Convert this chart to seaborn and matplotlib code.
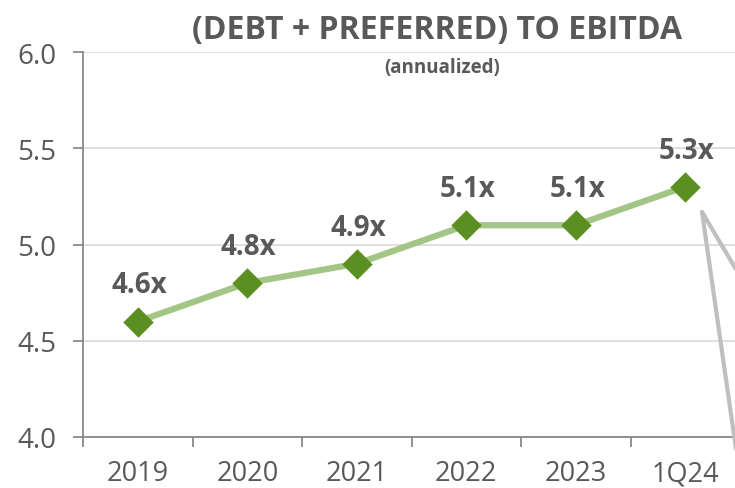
import matplotlib
matplotlib.use("Agg")
import matplotlib.pyplot as plt
import seaborn as sns
import pandas as pd
from matplotlib.lines import Line2D

# data
periods = ["2019", "2020", "2021", "2022", "2023", "1Q24"]
leverage = [4.6, 4.8, 4.9, 5.1, 5.1, 5.3]
labels = ["4.6x", "4.8x", "4.9x", "5.1x", "5.1x", "5.3x"]

df = pd.DataFrame({"period": periods, "leverage": leverage})

sns.set_theme(style="white")
plt.rcParams['font.family'] = ['Open Sans', 'DejaVu Sans']

txt = "#595959"
axc = "#898989"

fig = plt.figure(figsize=(7.35, 4.89), dpi=100)
ax = fig.add_axes([83 / 735, 51 / 489, 657 / 735, 385 / 489])

sns.lineplot(data=df, x="period", y="leverage", ax=ax, color="#A3C586",
             linewidth=4.5, sort=False, zorder=2)
sns.scatterplot(data=df, x="period", y="leverage", ax=ax, marker="D",
                color="#5B8F22", s=240, edgecolor="#5B8F22", linewidth=0, zorder=3)

for i, (v, lab) in enumerate(zip(leverage, labels)):
    ax.annotate(lab, (i, v), xytext=(1, 21), textcoords="offset points",
                ha="center", va="baseline", fontsize=20, fontweight="bold", color=txt)

ax.set_xlim(-0.5, 5.5)
ax.set_ylim(4.0, 6.0)
ax.set_yticks([4.0, 4.5, 5.0, 5.5, 6.0])
ax.set_yticklabels(["4.0", "4.5", "5.0", "5.5", "6.0"])
ax.set_xlabel("")
ax.set_ylabel("")

ax.grid(axis="y", color="#D9D9D9", linewidth=1.2, zorder=0)
ax.set_axisbelow(True)
for s in ["top", "right"]:
    ax.spines[s].set_visible(False)
for s in ["left", "bottom"]:
    ax.spines[s].set_color(axc)
    ax.spines[s].set_linewidth(1.3)

ax.tick_params(axis="y", length=7, width=1.3, color=axc, labelsize=20,
               labelcolor=txt, pad=12, left=True)
ax.tick_params(axis="x", which="major", length=0, labelsize=19.5, labelcolor=txt, pad=16)
ax.set_xticks([x - 0.5 for x in range(7)], minor=True)
ax.tick_params(axis="x", which="minor", length=7, width=1.3, color=axc, bottom=True)

fig.text(437 / 735, 1 - 30 / 489, "(DEBT + PREFERRED) TO EBITDA", ha="center", va="center",
         fontsize=23, fontweight="bold", color=txt)
fig.text(442 / 735, 1 - 68 / 489, "(annualized)", ha="center", va="center",
         fontsize=13.5, fontweight="bold", color=txt)

# callout lines
for end in [(737, 272), (742, 492)]:
    fig.add_artist(Line2D([702 / 735, end[0] / 735], [1 - 213 / 489, 1 - end[1] / 489],
                          color="#BFBFBF", linewidth=3, transform=fig.transFigure))

fig.savefig("out.png", dpi=100)
